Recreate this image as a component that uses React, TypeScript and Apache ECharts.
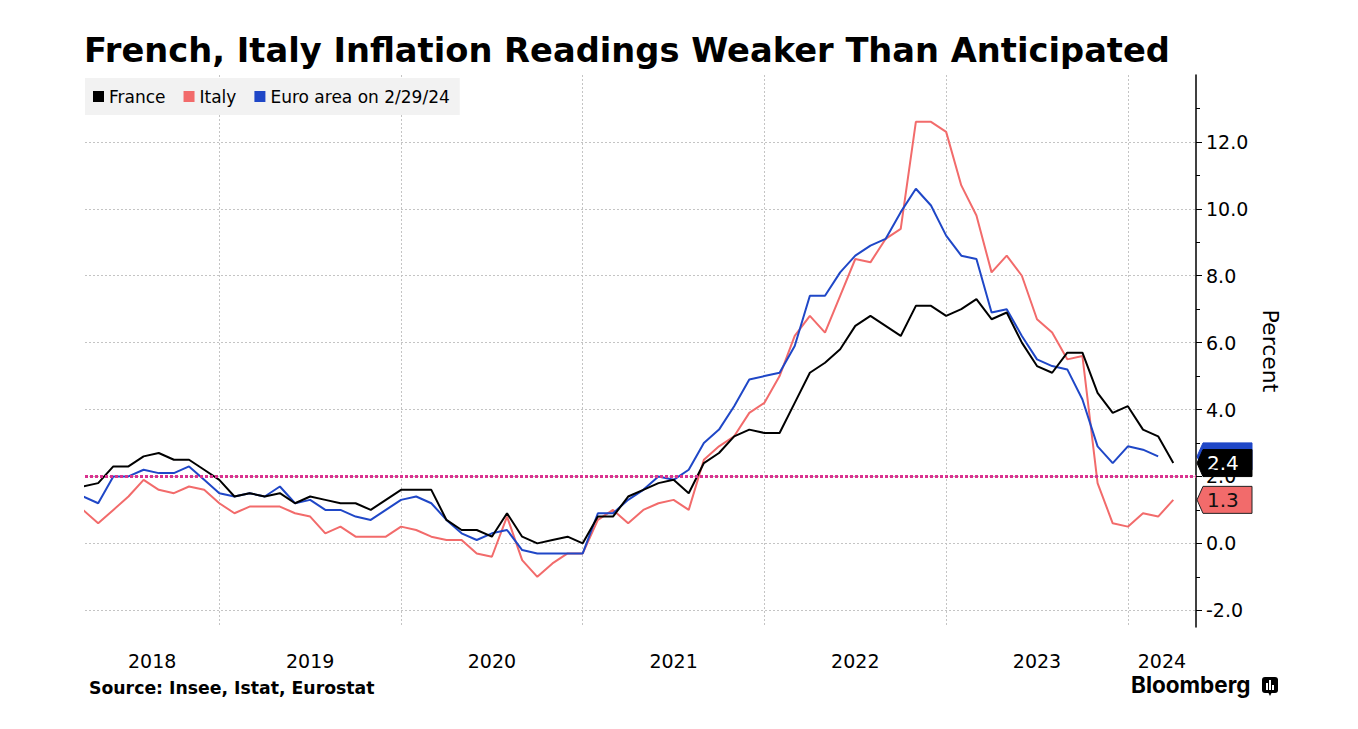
import React, { useEffect, useRef } from 'react';
import * as echarts from 'echarts';

const TITLE = 'French, Italy Inflation Readings Weaker Than Anticipated';
const SOURCE = 'Source: Insee, Istat, Eurostat';
const Y_NAME = 'Percent';
const SERIES_NAMES = ['France', 'Italy', 'Euro area on 2/29/24'];
const YEARS = [2018, 2019, 2020, 2021, 2022, 2023, 2024];
const FIRST_YEAR = 2018;
const FIRST_MONTH = 3; // March 2018
const Y_TICKS = [-2, 0, 2, 4, 6, 8, 10, 12];
const TARGET = 2.0;

// Monthly YoY inflation, Mar 2018 -> Mar 2024
const FRANCE = [
  1.7, 1.8, 2.3, 2.3, 2.6, 2.7, 2.5, 2.5, 2.2, 1.9,
  1.4, 1.5, 1.4, 1.5, 1.2, 1.4, 1.3, 1.2, 1.2, 1.0, 1.3, 1.6,
  1.6, 1.6, 0.7, 0.4, 0.4, 0.2, 0.9, 0.2, 0.0, 0.1, 0.2, 0.0,
  0.8, 0.8, 1.4, 1.6, 1.8, 1.9, 1.5, 2.4, 2.7, 3.2, 3.4, 3.3,
  3.3, 4.2, 5.1, 5.4, 5.8, 6.5, 6.8, 6.5, 6.2, 7.1, 7.1, 6.8,
  7.0, 7.3, 6.7, 6.9, 6.0, 5.3, 5.1, 5.7, 5.7, 4.5, 3.9, 4.1,
  3.4, 3.2, 2.4,
];
const ITALY = [
  1.0, 0.6, 1.0, 1.4, 1.9, 1.6, 1.5, 1.7, 1.6, 1.2,
  0.9, 1.1, 1.1, 1.1, 0.9, 0.8, 0.3, 0.5, 0.2, 0.2, 0.2, 0.5,
  0.4, 0.2, 0.1, 0.1, -0.3, -0.4, 0.8, -0.5, -1.0, -0.6, -0.3, -0.3,
  0.7, 1.0, 0.6, 1.0, 1.2, 1.3, 1.0, 2.5, 2.9, 3.2, 3.9, 4.2,
  5.0, 6.2, 6.8, 6.3, 7.4, 8.5, 8.4, 9.1, 9.4, 12.6, 12.6, 12.3,
  10.7, 9.8, 8.1, 8.6, 8.0, 6.7, 6.3, 5.5, 5.6, 1.8, 0.6, 0.5,
  0.9, 0.8, 1.3,
];
const EURO = [
  1.4, 1.2, 2.0, 2.0, 2.2, 2.1, 2.1, 2.3, 1.9, 1.5,
  1.4, 1.5, 1.4, 1.7, 1.2, 1.3, 1.0, 1.0, 0.8, 0.7, 1.0, 1.3,
  1.4, 1.2, 0.7, 0.3, 0.1, 0.3, 0.4, -0.2, -0.3, -0.3, -0.3, -0.3,
  0.9, 0.9, 1.3, 1.6, 2.0, 1.9, 2.2, 3.0, 3.4, 4.1, 4.9, 5.0,
  5.1, 5.9, 7.4, 7.4, 8.1, 8.6, 8.9, 9.1, 9.9, 10.6, 10.1, 9.2,
  8.6, 8.5, 6.9, 7.0, 6.2, 5.5, 5.3, 5.2, 4.3, 2.9, 2.4, 2.9,
  2.8, 2.6,
];

const COLORS = { france: '#000000', italy: '#f26b6b', euro: '#1f47c7', target: '#d9338f' };

// x position: months counted from Dec 2017 (Dec 2018 = 12, Dec 2023 = 72)
const X_MIN = 3.13;
const X_MAX = 76.5;

const FONT = 'DejaVu Sans';

function toPairs(values: number[]) {
  return values.map((v, i) => [FIRST_MONTH + i, v]);
}

export default function App() {
  const ref = useRef<HTMLDivElement>(null);
  useEffect(() => {
    if (!ref.current) return;
    const chart = echarts.init(ref.current, undefined, { renderer: 'svg' });

    const yearBounds = YEARS.slice(1).map((y) => (y - FIRST_YEAR) * 12);
    const yearMids = YEARS.map((y) => {
      const s = Math.max((y - FIRST_YEAR) * 12, X_MIN);
      const e = Math.min((y - FIRST_YEAR) * 12 + 12, X_MAX);
      return (s + e) / 2;
    });

    chart.setOption({
      animation: false,
      textStyle: { fontFamily: FONT },
      title: {
        text: TITLE,
        left: 84,
        top: 33,
        padding: 0,
        textStyle: { fontFamily: FONT, fontWeight: 'bold', fontSize: 33.7, color: '#000' },
      },
      legend: {
        left: 85,
        top: 78,
        data: SERIES_NAMES,
        icon: 'rect',
        itemWidth: 11,
        itemHeight: 11,
        itemGap: 18,
        padding: [10, 10, 10, 8],
        backgroundColor: '#f2f2f2',
        textStyle: { fontFamily: FONT, fontSize: 17, color: '#000' },
      },
      grid: { left: 85, right: 162, top: 75, bottom: 102 },
      xAxis: {
        type: 'value',
        min: X_MIN,
        max: X_MAX,
        axisLine: { show: false },
        axisTick: { show: false, customValues: yearBounds },
        axisLabel: {
          customValues: yearMids,
          formatter: (v: number) => String(FIRST_YEAR + Math.floor(v / 12)),
          fontFamily: FONT,
          fontSize: 19,
          color: '#000',
          margin: 24,
        },
        splitLine: { show: true, lineStyle: { color: '#c4c4c4', type: [2, 2], width: 1 } },
      },
      yAxis: {
        type: 'value',
        position: 'right',
        min: -2.5,
        max: 14,
        minInterval: 2,
        maxInterval: 2,
        name: Y_NAME,
        nameLocation: 'middle',
        nameRotate: -90,
        nameGap: 60,
        nameTextStyle: { fontFamily: FONT, fontSize: 22, color: '#000' },
        axisLine: { show: true, lineStyle: { color: '#000', width: 1.5 } },
        axisTick: { show: true, inside: false, length: 6, customValues: Y_TICKS, lineStyle: { color: '#000' } },
        minorTick: { show: true, splitNumber: 2, length: 4, lineStyle: { color: '#000' } },
        axisLabel: {
          customValues: Y_TICKS,
          formatter: (v: number) => v.toFixed(1),
          fontFamily: FONT,
          fontSize: 19,
          color: '#000',
          margin: 10,
        },
        splitLine: { show: true, lineStyle: { color: '#c4c4c4', type: [2, 2], width: 1 } },
      },
      series: [
        {
          name: SERIES_NAMES[1],
          type: 'line',
          data: toPairs(ITALY),
          showSymbol: false,
          symbol: 'none',
          lineStyle: { color: COLORS.italy, width: 2 },
          itemStyle: { color: COLORS.italy },
          z: 2,
        },
        {
          name: SERIES_NAMES[2],
          type: 'line',
          data: toPairs(EURO),
          showSymbol: false,
          symbol: 'none',
          lineStyle: { color: COLORS.euro, width: 2 },
          itemStyle: { color: COLORS.euro },
          z: 3,
        },
        {
          name: SERIES_NAMES[0],
          type: 'line',
          data: toPairs(FRANCE),
          showSymbol: false,
          symbol: 'none',
          lineStyle: { color: COLORS.france, width: 2 },
          itemStyle: { color: COLORS.france },
          z: 4,
          markLine: {
            silent: true,
            symbol: ['none', 'none'],
            label: { show: false },
            lineStyle: { color: COLORS.target, type: [3, 2], width: 3 },
            data: [{ yAxis: TARGET }],
          },
        },
      ],
    });

    // Last-value tags on the right axis (the Euro tag sits behind France's and shows no text)
    const boxes = [
      { v: EURO[EURO.length - 1], fill: COLORS.euro, text: '', stroke: COLORS.euro },
      { v: ITALY[ITALY.length - 1], fill: COLORS.italy, text: '#111', stroke: '#222' },
      { v: FRANCE[FRANCE.length - 1], fill: COLORS.france, text: '#fff', stroke: '#000' },
    ];
    const axisX = 1197;
    const graphics: any[] = boxes.map((b) => {
      const cy = chart.convertToPixel({ yAxisIndex: 0 }, b.v) as number;
      const h = 13.5;
      const children: any[] = [
        {
          type: 'polygon',
          shape: {
            points: [
              [axisX, cy],
              [axisX + 6, cy - h],
              [1252, cy - h],
              [1252, cy + h],
              [axisX + 6, cy + h],
            ],
          },
          style: { fill: b.fill, stroke: b.stroke, lineWidth: 1 },
        },
      ];
      if (b.text) {
        children.push({
          type: 'text',
          x: 1207,
          y: cy,
          style: {
            text: b.v.toFixed(1),
            fill: b.text,
            font: `20px "${FONT}"`,
            verticalAlign: 'middle',
          },
        });
      }
      return { type: 'group', z: 100, children };
    });

    graphics.push(
      {
        type: 'text',
        left: 89,
        top: 679,
        style: { text: SOURCE, fill: '#000', font: `bold 17.3px "${FONT}"` },
      },
      {
        type: 'text',
        left: 1131,
        top: 673,
        style: { text: 'Bloomberg', fill: '#000', font: `bold 22.5px "Inter", "Roboto", sans-serif` },
      },
      {
        type: 'group',
        left: 1262,
        top: 677,
        children: [
          { type: 'rect', shape: { x: 0, y: 0, width: 16, height: 16, r: 3 }, style: { fill: '#000' } },
          { type: 'polygon', shape: { points: [[6, 15], [10, 15], [8, 19]] }, style: { fill: '#000' } },
          { type: 'rect', shape: { x: 4, y: 6, width: 2, height: 7 }, style: { fill: '#fff' } },
          { type: 'rect', shape: { x: 7, y: 3, width: 2, height: 10 }, style: { fill: '#fff' } },
          { type: 'rect', shape: { x: 10, y: 8, width: 2, height: 5 }, style: { fill: '#fff' } },
        ],
      }
    );

    chart.setOption({ graphic: graphics });

    return () => chart.dispose();
  }, []);

  return (
    <div
      ref={ref}
      style={{ position: 'fixed', left: 0, top: 0, width: 1358, height: 729, background: '#fff' }}
    />
  );
}
